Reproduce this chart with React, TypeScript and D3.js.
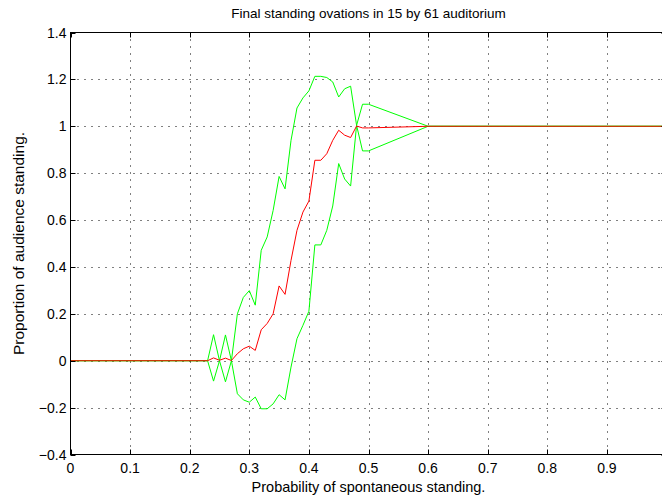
import React, { useEffect, useRef } from 'react';
import * as d3 from 'd3';

// probability of spontaneous standing (x)
const probs = [
  0, 0.23, 0.24, 0.25, 0.26, 0.27, 0.28, 0.29, 0.3, 0.31, 0.32, 0.33, 0.34, 0.35,
  0.36, 0.37, 0.38, 0.39, 0.4, 0.41, 0.42, 0.43, 0.44, 0.45, 0.46, 0.47, 0.48,
  0.49, 0.5, 0.6, 1.0,
];
// mean proportion standing
const meanStanding = [
  0, 0, 0.012, 0.002, 0.011, 0.001, 0.03, 0.051, 0.062, 0.044, 0.132, 0.159, 0.2,
  0.319, 0.283, 0.428, 0.556, 0.634, 0.681, 0.855, 0.855, 0.883, 0.94, 0.983,
  0.962, 0.952, 1.001, 0.993, 0.993, 1, 1,
];
// mean + std
const upperBand = [
  0, 0, 0.111, 0, 0.11, 0, 0.2, 0.27, 0.299, 0.237, 0.471, 0.528, 0.641, 0.786,
  0.733, 0.94, 1.078, 1.121, 1.151, 1.213, 1.213, 1.208, 1.189, 1.125, 1.16,
  1.171, 1.004, 1.094, 1.094, 1, 1,
];
// mean - std
const lowerBand = [
  0, 0, -0.087, 0, -0.09, 0, -0.141, -0.167, -0.177, -0.155, -0.205, -0.205,
  -0.184, -0.145, -0.167, -0.027, 0.094, 0.151, 0.211, 0.494, 0.494, 0.556, 0.66,
  0.841, 0.775, 0.745, 1.004, 0.895, 0.895, 1, 1,
];

const xTicks = [0, 0.1, 0.2, 0.3, 0.4, 0.5, 0.6, 0.7, 0.8, 0.9, 1.0];
const yTicks = [-0.4, -0.2, 0, 0.2, 0.4, 0.6, 0.8, 1, 1.2, 1.4];

const App: React.FC = () => {
  const svgRef = useRef<SVGSVGElement>(null);

  useEffect(() => {
    if (!svgRef.current) return;
    const width = 662;
    const height = 497;
    const left = 70.5;
    const right = 666.5;
    const top = 32.5;
    const bottom = 454.5;
    const font = '"Liberation Sans", Arial, Helvetica, sans-serif';

    const svg = d3.select(svgRef.current);
    svg.selectAll('*').remove();
    svg.attr('width', width).attr('height', height);

    svg.append('rect').attr('width', width).attr('height', height).attr('fill', '#fff');

    const x = d3.scaleLinear().domain([0, 1]).range([left, right]);
    const y = d3.scaleLinear().domain([-0.4, 1.4]).range([bottom, top]);

    // grid (dotted)
    const grid = svg.append('g').attr('stroke', '#000').attr('stroke-width', 1)
      .attr('stroke-dasharray', '1,6');
    xTicks.slice(1).forEach((t) => {
      const px = Math.round(x(t)) + 0.5;
      grid.append('line').attr('x1', px).attr('x2', px).attr('y1', top).attr('y2', bottom);
    });
    yTicks.slice(1, -1).forEach((t) => {
      const py = Math.round(y(t)) + 0.5;
      grid.append('line').attr('x1', left).attr('x2', right).attr('y1', py).attr('y2', py);
    });

    // series
    const line = d3.line<number>()
      .x((_, i) => x(probs[i]))
      .y((d) => y(d));

    [upperBand, lowerBand].forEach((band) => {
      svg.append('path').datum(band).attr('fill', 'none').attr('stroke', '#00ff00')
        .attr('stroke-width', 1).attr('d', line);
    });
    svg.append('path').datum(meanStanding).attr('fill', 'none').attr('stroke', '#ff0000')
      .attr('stroke-width', 1).attr('d', line);

    // ticks (inside, both sides)
    const tl = 5;
    const ticks = svg.append('g').attr('stroke', '#000').attr('stroke-width', 1);
    xTicks.forEach((t) => {
      const px = Math.round(x(t)) + 0.5;
      ticks.append('line').attr('x1', px).attr('x2', px).attr('y1', bottom).attr('y2', bottom - tl);
      ticks.append('line').attr('x1', px).attr('x2', px).attr('y1', top).attr('y2', top + tl);
    });
    yTicks.forEach((t) => {
      const py = Math.round(y(t)) + 0.5;
      ticks.append('line').attr('x1', left).attr('x2', left + tl).attr('y1', py).attr('y2', py);
      ticks.append('line').attr('x1', right).attr('x2', right - tl).attr('y1', py).attr('y2', py);
    });

    // frame
    svg.append('rect').attr('x', left).attr('y', top).attr('width', right - left)
      .attr('height', bottom - top).attr('fill', 'none').attr('stroke', '#000')
      .attr('stroke-width', 1);

    const fmt = (v: number) => {
      const s = d3.format('.1~f')(Math.abs(v));
      return v < 0 ? '\u2212' + s : s;
    };

    // tick labels
    xTicks.slice(0, -1).forEach((t) => {
      svg.append('text').attr('x', x(t)).attr('y', bottom + 18.5)
        .attr('text-anchor', 'middle').attr('font-family', font).attr('font-size', 14)
        .attr('fill', '#000').text(fmt(t));
    });
    yTicks.forEach((t) => {
      svg.append('text').attr('x', left - 4).attr('y', y(t) + 5)
        .attr('text-anchor', 'end').attr('font-family', font).attr('font-size', 14)
        .attr('fill', '#000').text(fmt(t));
    });

    // title and axis labels
    svg.append('text').attr('x', (left + right) / 2).attr('y', top - 15)
      .attr('text-anchor', 'middle').attr('font-family', font).attr('font-size', 13.5)
      .attr('fill', '#000').text('Final standing ovations in 15 by 61 auditorium');
    svg.append('text').attr('x', (left + right) / 2).attr('y', bottom + 37)
      .attr('text-anchor', 'middle').attr('font-family', font).attr('font-size', 14.5)
      .attr('fill', '#000').text('Probability of spontaneous standing.');
    svg.append('text')
      .attr('transform', `translate(24,${(top + bottom) / 2}) rotate(-90)`)
      .attr('text-anchor', 'middle').attr('font-family', font).attr('font-size', 15.5)
      .attr('fill', '#000').text('Proportion of audience standing.');
  }, []);

  return (
    <svg ref={svgRef} style={{ position: 'absolute', left: 0, top: 0, display: 'block' }} />
  );
};

export default App;
